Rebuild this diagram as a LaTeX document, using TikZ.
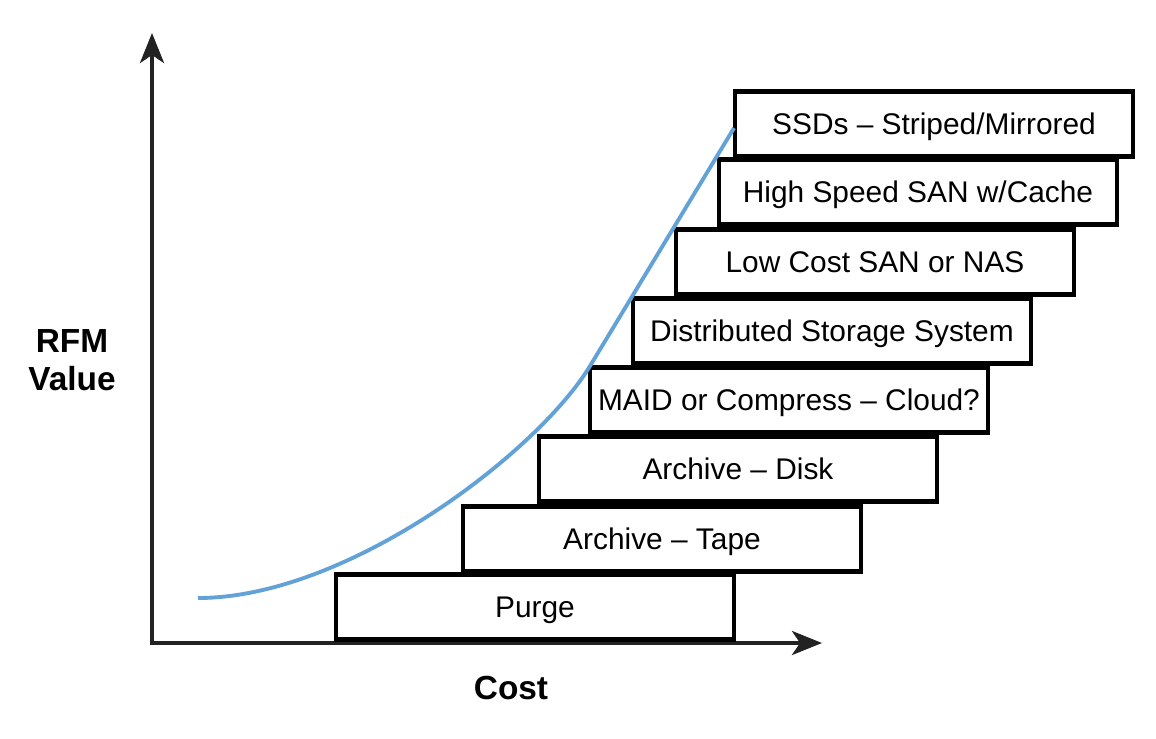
\documentclass[tikz,border=0pt]{standalone}
\usepackage{fontspec}
\setmainfont{Liberation Sans}
\usetikzlibrary{arrows.meta}
\definecolor{curveblue}{HTML}{63A2D6}
\definecolor{axisgrey}{HTML}{222222}
\tikzset{
  tier/.style={draw=black, line width=2.3pt, fill=white, minimum width=7.95cm,
    minimum height=1.3cm, inner sep=0pt, text height=12.2pt, text depth=0pt,
    font=\fontsize{17}{20}\selectfont},
  axislabel/.style={font=\fontsize{19}{22}\selectfont\bfseries, align=center},
  axisline/.style={draw=axisgrey, line width=2.2pt,
    -{Stealth[length=6mm, width=4.8mm, inset=1.6mm]}}
}
\begin{document}
\begin{tikzpicture}[x=0.02cm, y=-0.02cm]
  \useasboundingbox (0,0) rectangle (1156,738);
  % axes
  \coordinate (origin) at (152,643);
  \coordinate (ytop) at (152,33);
  \coordinate (xend) at (822,643);
  \coordinate (xstart) at (150,643);
  \draw[axisline] (origin) to (ytop);
  \draw[axisline] (xstart) to (xend);
  % storage tiers
  \node[tier] (purge)     at (535,607) {Purge};
  \node[tier] (tape)      at (662,539) {Archive -- Tape};
  \node[tier] (disk)      at (738,469) {Archive -- Disk};
  \node[tier] (maid)      at (789,400) {MAID or Compress -- Cloud?};
  \node[tier] (dist)      at (832,331) {Distributed Storage System};
  \node[tier] (lowcost)   at (875,262) {Low Cost SAN or NAS};
  \node[tier] (highspeed) at (918,192) {High Speed SAN w/Cache};
  \node[tier] (ssd)       at (934,124) {SSDs -- Striped/Mirrored};
  % value curve
  \coordinate (cstart) at (198,598);
  \coordinate (cbend) at (590,366);
  \coordinate (cend) at (734,128);
  \draw[curveblue, line width=2.2pt]
    (cstart) .. controls (348,598) and (538,452) .. (cbend) -- (cend);
  % labels
  \node[axislabel] (rfm) at (72,360) {RFM\\Value};
  \node[axislabel] (cost) at (511,688) {Cost};
\end{tikzpicture}
\end{document}
